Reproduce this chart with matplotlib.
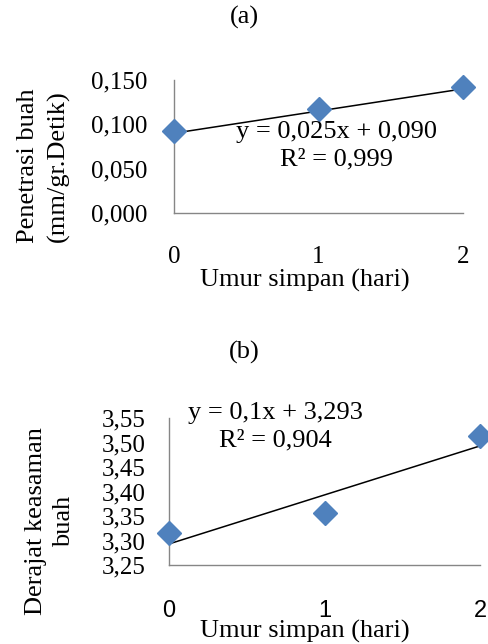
import matplotlib
matplotlib.use("Agg")
import matplotlib.pyplot as plt
import numpy as np

# data
hari = [0, 1, 2]
penetrasi = [0.092, 0.117, 0.142]
ph = [3.315, 3.357, 3.514]
trend_a = (0.025, 0.090)
trend_b = (0.1, 3.293)
yticks_a = [0.0, 0.05, 0.10, 0.15]
yticks_b = [3.25, 3.30, 3.35, 3.40, 3.45, 3.50, 3.55]

plt.rcParams['font.family'] = ['Liberation Serif', 'DejaVu Serif']
blue = '#4F81BD'
grey = '#868686'
fs = 19

fig = plt.figure(figsize=(4.88, 6.44), dpi=100)


def style(ax):
    for s in ['top', 'right']:
        ax.spines[s].set_visible(False)
    for s in ['left', 'bottom']:
        ax.spines[s].set_color(grey)
        ax.spines[s].set_linewidth(1.0)
    ax.tick_params(length=0, labelsize=18)


# panel a
ax1 = fig.add_axes([174/488, 1-213/644, 289/488, 133/644])
ax1.plot(hari, penetrasi, 'D', color=blue, markersize=12, clip_on=False, zorder=3)
xs = np.array([0, 2])
ax1.plot(xs, trend_a[0]*xs + trend_a[1], color='black', lw=1.1, clip_on=False)
ax1.set_xlim(0, 2)
ax1.set_ylim(0, 0.15)
ax1.set_xticks(hari)
ax1.set_yticks(yticks_a)
ax1.set_yticklabels([f"{v:.3f}".replace('.', ',') for v in yticks_a])
style(ax1)
ax1.tick_params(axis='x', pad=24)
ax1.tick_params(axis='y', pad=19)
ax1.set_xlabel('Umur simpan (hari)', fontsize=fs)
ax1.xaxis.set_label_coords((305-174)/289, (213-280)/133)
ax1.xaxis.label.set_va('center')
ax1.set_ylabel('Penetrasi buah\n(mm/gr.Detik)', fontsize=fs, linespacing=1.4)
ax1.yaxis.set_label_coords((43.5-174)/289, (213-166)/133)
ax1.yaxis.label.set_va('center')
ax1.text((337-174)/289, (213-146)/133, 'y = 0,025x + 0,090\nR² = 0,999', transform=ax1.transAxes,
         ha='center', va='center', fontsize=fs, linespacing=1.3)
fig.text(244/488, 1-17/644, '(a)', ha='center', va='center', fontsize=fs)

# panel b
ax2 = fig.add_axes([169/488, 1-565/644, 311/488, 147/644])
ax2.plot(hari, ph, 'D', color=blue, markersize=12, clip_on=False, zorder=3)
ax2.plot(xs, trend_b[0]*xs + trend_b[1], color='black', lw=1.1, clip_on=False)
ax2.set_xlim(0, 2)
ax2.set_ylim(3.25, 3.55)
ax2.set_xticks(hari)
ax2.set_yticks(yticks_b)
ax2.set_yticklabels([f"{v:.2f}".replace('.', ',') for v in yticks_b])
style(ax2)
ax2.tick_params(axis='x', pad=25)
ax2.tick_params(axis='y', pad=17)
for t in ax2.get_xticklabels():
    t.set_fontfamily('Liberation Sans')
    t.set_fontsize(17)
ax2.set_xlabel('Umur simpan (hari)', fontsize=fs)
ax2.xaxis.set_label_coords((305-169)/311, (565-631)/147)
ax2.xaxis.label.set_va('center')
ax2.set_ylabel('Derajat keasaman\nbuah', fontsize=fs, linespacing=1.3)
ax2.yaxis.set_label_coords((50-169)/311, (565-521)/147)
ax2.yaxis.label.set_va('center')
ax2.text((275-169)/311, (565-427)/147, 'y = 0,1x + 3,293\nR² = 0,904', transform=ax2.transAxes,
         ha='center', va='center', fontsize=fs, linespacing=1.3)
fig.text(244/488, 1-352/644, '(b)', ha='center', va='center', fontsize=fs)

fig.savefig('out.png', dpi=100)
